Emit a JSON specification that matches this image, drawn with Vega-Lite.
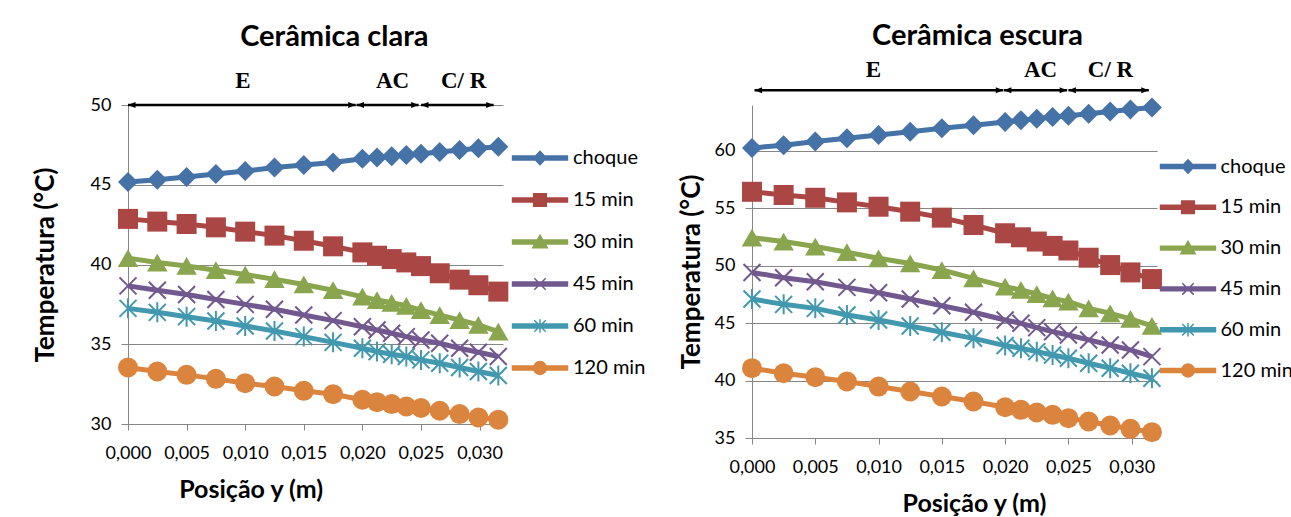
{
"$schema": "https://vega.github.io/schema/vega-lite/v6.json",
"background": "white",
"autosize": {"type": "pad"},
"padding": {"left": 32, "top": 21, "right": 0, "bottom": 0},
"datasets": {
"clara": [
{"s":"choque","x":0,"t":45.17},{"s":"choque","x":0.0025,"t":45.31},{"s":"choque","x":0.005,"t":45.49},{"s":"choque","x":0.0075,"t":45.67},{"s":"choque","x":0.01,"t":45.86},{"s":"choque","x":0.0125,"t":46.08},{"s":"choque","x":0.015,"t":46.24},{"s":"choque","x":0.0175,"t":46.39},{"s":"choque","x":0.02,"t":46.63},{"s":"choque","x":0.02125,"t":46.71},{"s":"choque","x":0.0225,"t":46.79},{"s":"choque","x":0.02375,"t":46.86},{"s":"choque","x":0.025,"t":46.94},{"s":"choque","x":0.0266,"t":47.05},{"s":"choque","x":0.0283,"t":47.18},{"s":"choque","x":0.0299,"t":47.29},{"s":"choque","x":0.0316,"t":47.38},
{"s":"15 min","x":0,"t":42.86},{"s":"15 min","x":0.0025,"t":42.69},{"s":"15 min","x":0.005,"t":42.54},{"s":"15 min","x":0.0075,"t":42.33},{"s":"15 min","x":0.01,"t":42.06},{"s":"15 min","x":0.0125,"t":41.81},{"s":"15 min","x":0.015,"t":41.49},{"s":"15 min","x":0.0175,"t":41.14},{"s":"15 min","x":0.02,"t":40.76},{"s":"15 min","x":0.02125,"t":40.55},{"s":"15 min","x":0.0225,"t":40.34},{"s":"15 min","x":0.02375,"t":40.13},{"s":"15 min","x":0.025,"t":39.9},{"s":"15 min","x":0.0266,"t":39.45},{"s":"15 min","x":0.0283,"t":39.05},{"s":"15 min","x":0.0299,"t":38.7},{"s":"15 min","x":0.0316,"t":38.3},
{"s":"30 min","x":0,"t":40.4},{"s":"30 min","x":0.0025,"t":40.12},{"s":"30 min","x":0.005,"t":39.91},{"s":"30 min","x":0.0075,"t":39.64},{"s":"30 min","x":0.01,"t":39.37},{"s":"30 min","x":0.0125,"t":39.08},{"s":"30 min","x":0.015,"t":38.75},{"s":"30 min","x":0.0175,"t":38.39},{"s":"30 min","x":0.02,"t":37.98},{"s":"30 min","x":0.02125,"t":37.77},{"s":"30 min","x":0.0225,"t":37.6},{"s":"30 min","x":0.02375,"t":37.41},{"s":"30 min","x":0.025,"t":37.14},{"s":"30 min","x":0.0266,"t":36.83},{"s":"30 min","x":0.0283,"t":36.52},{"s":"30 min","x":0.0299,"t":36.21},{"s":"30 min","x":0.0316,"t":35.79},
{"s":"45 min","x":0,"t":38.66},{"s":"45 min","x":0.0025,"t":38.39},{"s":"45 min","x":0.005,"t":38.12},{"s":"45 min","x":0.0075,"t":37.81},{"s":"45 min","x":0.01,"t":37.5},{"s":"45 min","x":0.0125,"t":37.19},{"s":"45 min","x":0.015,"t":36.83},{"s":"45 min","x":0.0175,"t":36.48},{"s":"45 min","x":0.02,"t":36.1},{"s":"45 min","x":0.02125,"t":35.89},{"s":"45 min","x":0.0225,"t":35.69},{"s":"45 min","x":0.02375,"t":35.48},{"s":"45 min","x":0.025,"t":35.27},{"s":"45 min","x":0.0266,"t":35.06},{"s":"45 min","x":0.0283,"t":34.75},{"s":"45 min","x":0.0299,"t":34.5},{"s":"45 min","x":0.0316,"t":34.23},
{"s":"60 min","x":0,"t":37.25},{"s":"60 min","x":0.0025,"t":37.0},{"s":"60 min","x":0.005,"t":36.73},{"s":"60 min","x":0.0075,"t":36.46},{"s":"60 min","x":0.01,"t":36.14},{"s":"60 min","x":0.0125,"t":35.83},{"s":"60 min","x":0.015,"t":35.48},{"s":"60 min","x":0.0175,"t":35.12},{"s":"60 min","x":0.02,"t":34.75},{"s":"60 min","x":0.02125,"t":34.54},{"s":"60 min","x":0.0225,"t":34.37},{"s":"60 min","x":0.02375,"t":34.23},{"s":"60 min","x":0.025,"t":34.02},{"s":"60 min","x":0.0266,"t":33.81},{"s":"60 min","x":0.0283,"t":33.54},{"s":"60 min","x":0.0299,"t":33.29},{"s":"60 min","x":0.0316,"t":33.04},
{"s":"120 min","x":0,"t":33.54},{"s":"120 min","x":0.0025,"t":33.29},{"s":"120 min","x":0.005,"t":33.08},{"s":"120 min","x":0.0075,"t":32.83},{"s":"120 min","x":0.01,"t":32.56},{"s":"120 min","x":0.0125,"t":32.35},{"s":"120 min","x":0.015,"t":32.08},{"s":"120 min","x":0.0175,"t":31.87},{"s":"120 min","x":0.02,"t":31.52},{"s":"120 min","x":0.02125,"t":31.37},{"s":"120 min","x":0.0225,"t":31.25},{"s":"120 min","x":0.02375,"t":31.1},{"s":"120 min","x":0.025,"t":31.0},{"s":"120 min","x":0.0266,"t":30.83},{"s":"120 min","x":0.0283,"t":30.62},{"s":"120 min","x":0.0299,"t":30.41},{"s":"120 min","x":0.0316,"t":30.27}
],
"escura": [
{"s":"choque","x":0,"t":60.26},{"s":"choque","x":0.0025,"t":60.5},{"s":"choque","x":0.005,"t":60.82},{"s":"choque","x":0.0075,"t":61.1},{"s":"choque","x":0.01,"t":61.38},{"s":"choque","x":0.0125,"t":61.68},{"s":"choque","x":0.015,"t":61.97},{"s":"choque","x":0.0175,"t":62.23},{"s":"choque","x":0.02,"t":62.52},{"s":"choque","x":0.02125,"t":62.68},{"s":"choque","x":0.0225,"t":62.8},{"s":"choque","x":0.02375,"t":62.95},{"s":"choque","x":0.025,"t":63.06},{"s":"choque","x":0.0266,"t":63.24},{"s":"choque","x":0.0283,"t":63.44},{"s":"choque","x":0.0299,"t":63.61},{"s":"choque","x":0.0316,"t":63.79},
{"s":"15 min","x":0,"t":56.44},{"s":"15 min","x":0.0025,"t":56.16},{"s":"15 min","x":0.005,"t":55.92},{"s":"15 min","x":0.0075,"t":55.52},{"s":"15 min","x":0.01,"t":55.14},{"s":"15 min","x":0.0125,"t":54.71},{"s":"15 min","x":0.015,"t":54.19},{"s":"15 min","x":0.0175,"t":53.55},{"s":"15 min","x":0.02,"t":52.83},{"s":"15 min","x":0.02125,"t":52.48},{"s":"15 min","x":0.0225,"t":52.11},{"s":"15 min","x":0.02375,"t":51.73},{"s":"15 min","x":0.025,"t":51.33},{"s":"15 min","x":0.0266,"t":50.7},{"s":"15 min","x":0.0283,"t":50.06},{"s":"15 min","x":0.0299,"t":49.42},{"s":"15 min","x":0.0316,"t":48.84},
{"s":"30 min","x":0,"t":52.45},{"s":"30 min","x":0.0025,"t":52.11},{"s":"30 min","x":0.005,"t":51.67},{"s":"30 min","x":0.0075,"t":51.18},{"s":"30 min","x":0.01,"t":50.65},{"s":"30 min","x":0.0125,"t":50.2},{"s":"30 min","x":0.015,"t":49.63},{"s":"30 min","x":0.0175,"t":48.9},{"s":"30 min","x":0.02,"t":48.18},{"s":"30 min","x":0.02125,"t":47.89},{"s":"30 min","x":0.0225,"t":47.54},{"s":"30 min","x":0.02375,"t":47.16},{"s":"30 min","x":0.025,"t":46.87},{"s":"30 min","x":0.0266,"t":46.29},{"s":"30 min","x":0.0283,"t":45.86},{"s":"30 min","x":0.0299,"t":45.37},{"s":"30 min","x":0.0316,"t":44.76},
{"s":"45 min","x":0,"t":49.42},{"s":"45 min","x":0.0025,"t":48.96},{"s":"45 min","x":0.005,"t":48.61},{"s":"45 min","x":0.0075,"t":48.12},{"s":"45 min","x":0.01,"t":47.65},{"s":"45 min","x":0.0125,"t":47.1},{"s":"45 min","x":0.015,"t":46.52},{"s":"45 min","x":0.0175,"t":45.95},{"s":"45 min","x":0.02,"t":45.28},{"s":"45 min","x":0.02125,"t":44.99},{"s":"45 min","x":0.0225,"t":44.61},{"s":"45 min","x":0.02375,"t":44.26},{"s":"45 min","x":0.025,"t":43.97},{"s":"45 min","x":0.0266,"t":43.54},{"s":"45 min","x":0.0283,"t":43.1},{"s":"45 min","x":0.0299,"t":42.67},{"s":"45 min","x":0.0316,"t":42.09},
{"s":"60 min","x":0,"t":47.1},{"s":"60 min","x":0.0025,"t":46.64},{"s":"60 min","x":0.005,"t":46.29},{"s":"60 min","x":0.0075,"t":45.71},{"s":"60 min","x":0.01,"t":45.28},{"s":"60 min","x":0.0125,"t":44.76},{"s":"60 min","x":0.015,"t":44.21},{"s":"60 min","x":0.0175,"t":43.68},{"s":"60 min","x":0.02,"t":43.05},{"s":"60 min","x":0.02125,"t":42.81},{"s":"60 min","x":0.0225,"t":42.52},{"s":"60 min","x":0.02375,"t":42.23},{"s":"60 min","x":0.025,"t":41.95},{"s":"60 min","x":0.0266,"t":41.51},{"s":"60 min","x":0.0283,"t":41.08},{"s":"60 min","x":0.0299,"t":40.64},{"s":"60 min","x":0.0316,"t":40.21},
{"s":"120 min","x":0,"t":41.08},{"s":"120 min","x":0.0025,"t":40.64},{"s":"120 min","x":0.005,"t":40.29},{"s":"120 min","x":0.0075,"t":39.92},{"s":"120 min","x":0.01,"t":39.48},{"s":"120 min","x":0.0125,"t":39.05},{"s":"120 min","x":0.015,"t":38.61},{"s":"120 min","x":0.0175,"t":38.18},{"s":"120 min","x":0.02,"t":37.68},{"s":"120 min","x":0.02125,"t":37.45},{"s":"120 min","x":0.0225,"t":37.22},{"s":"120 min","x":0.02375,"t":37.02},{"s":"120 min","x":0.025,"t":36.73},{"s":"120 min","x":0.0266,"t":36.44},{"s":"120 min","x":0.0283,"t":36.09},{"s":"120 min","x":0.0299,"t":35.8},{"s":"120 min","x":0.0316,"t":35.51}
],
"arrClara": [{"a":0,"b":0.01943,"y":50},{"a":0.0195,"b":0.0248,"y":50},{"a":0.025,"b":0.0312,"y":50}],
"arrEscura": [{"a":0.0002,"b":0.01985,"y":65.28},{"a":0.0199,"b":0.0249,"y":65.28},{"a":0.025,"b":0.03135,"y":65.28}],
"lblClara": [{"x":0.0098,"y":51.5,"l":"E"},{"x":0.02258,"y":51.5,"l":"AC"},{"x":0.02864,"y":51.5,"l":"C/ R"}],
"lblEscura": [{"x":0.0096,"y":67.05,"l":"E"},{"x":0.0228,"y":67.05,"l":"AC"},{"x":0.02833,"y":67.05,"l":"C/ R"}]
},
"spacing": 32,
"resolve": {"scale": {"color": "independent"}, "legend": {"color": "independent"}},
"hconcat": [
{
"width": 375, "height": 319,
"title": {"text": "Cerâmica clara", "offset": 18, "dx": -5},
"layer": [
{"data": {"name": "clara"}, "mark": {"type": "line", "strokeWidth": 5, "strokeJoin": "round"},
 "encoding": {
  "x": {"field": "x", "type": "quantitative", "title": "Posição y (m)", "scale": {"domain": [0, 0.032], "nice": false, "zero": false}, "axis": {"values": [0, 0.005, 0.01, 0.015, 0.02, 0.025, 0.03], "format": ".3f", "titleX": 122.7}},
  "y": {"field": "t", "type": "quantitative", "title": "Temperatura (°C)", "scale": {"domain": [30, 50], "nice": false, "zero": false}, "axis": {"values": [30, 35, 40, 45, 50], "titlePadding": 31.5}},
  "color": {"field": "s", "type": "nominal", "scale": {"domain": ["choque","15 min","30 min","45 min","60 min","120 min"], "range": ["#4572A7","#AA4643","#89A54E","#71588F","#4198AF","#DB843D"]},
   "legend": {"title": null, "orient": "none", "legendX": 396, "legendY": 37, "padding": 0, "symbolSize": 900, "labelOffset": 17, "rowPadding": 16, "labelFont": "Lato", "labelFontSize": 20, "labelColor": "#000",
    "encode": {"symbols": {"update": {
     "shape": {"signal": "datum.value==='choque'?'M-1.83,-0.13H1.83V0.13H-1.83ZM0,-0.45L0.42,0L0,0.45L-0.42,0Z':datum.value==='15 min'?'M-1.83,-0.13H1.83V0.13H-1.83ZM-0.42,-0.42H0.42V0.42H-0.42Z':datum.value==='30 min'?'M-1.83,-0.13H1.83V0.13H-1.83ZM0,-0.45L0.48,0.38H-0.48Z':datum.value==='45 min'?'M-1.83,-0.13H1.83V0.13H-1.83ZM-0.38,-0.38L0.38,0.38M-0.38,0.38L0.38,-0.38':datum.value==='60 min'?'M-1.83,-0.13H1.83V0.13H-1.83ZM-0.38,-0.38L0.38,0.38M-0.38,0.38L0.38,-0.38M0,-0.45L0,0.45':'M-1.83,-0.13H1.83V0.13H-1.83ZM-0.43,0A0.43,0.43 0 1,1 0.43,0A0.43,0.43 0 1,1 -0.43,0Z'"},
     "fill": {"signal": "datum.value==='choque'?'#4572A7':datum.value==='15 min'?'#AA4643':datum.value==='30 min'?'#89A54E':datum.value==='45 min'?'#71588F':datum.value==='60 min'?'#4198AF':'#DB843D'"},
     "strokeWidth": {"value": 1.5}, "opacity": {"value": 1}}}}}
  }
 }
},
{"data": {"name": "clara"}, "transform": [{"filter": {"field": "s", "equal": "choque"}}], "mark": {"type": "point", "shape": "diamond", "filled": true, "size": 400, "color": "#4572A7", "opacity": 1},
 "encoding": {"x": {"field": "x", "type": "quantitative", "title": "Posição y (m)"}, "y": {"field": "t", "type": "quantitative", "title": "Temperatura (°C)"}}},
{"data": {"name": "clara"}, "transform": [{"filter": {"field": "s", "equal": "15 min"}}], "mark": {"type": "point", "shape": "square", "filled": true, "size": 400, "color": "#AA4643", "opacity": 1},
 "encoding": {"x": {"field": "x", "type": "quantitative", "title": "Posição y (m)"}, "y": {"field": "t", "type": "quantitative", "title": "Temperatura (°C)"}}},
{"data": {"name": "clara"}, "transform": [{"filter": {"field": "s", "equal": "30 min"}}], "mark": {"type": "point", "shape": "triangle-up", "filled": true, "size": 420, "color": "#89A54E", "opacity": 1},
 "encoding": {"x": {"field": "x", "type": "quantitative", "title": "Posição y (m)"}, "y": {"field": "t", "type": "quantitative", "title": "Temperatura (°C)"}}},
{"data": {"name": "clara"}, "transform": [{"filter": {"field": "s", "equal": "45 min"}}], "mark": {"type": "point", "shape": "M-0.85,-0.85L0.85,0.85M-0.85,0.85L0.85,-0.85", "filled": false, "strokeWidth": 2, "size": 400, "color": "#71588F", "opacity": 1},
 "encoding": {"x": {"field": "x", "type": "quantitative", "title": "Posição y (m)"}, "y": {"field": "t", "type": "quantitative", "title": "Temperatura (°C)"}}},
{"data": {"name": "clara"}, "transform": [{"filter": {"field": "s", "equal": "60 min"}}], "mark": {"type": "point", "shape": "M-0.85,-0.85L0.85,0.85M-0.85,0.85L0.85,-0.85M0,-1L0,1", "filled": false, "strokeWidth": 2, "size": 400, "color": "#4198AF", "opacity": 1},
 "encoding": {"x": {"field": "x", "type": "quantitative", "title": "Posição y (m)"}, "y": {"field": "t", "type": "quantitative", "title": "Temperatura (°C)"}}},
{"data": {"name": "clara"}, "transform": [{"filter": {"field": "s", "equal": "120 min"}}], "mark": {"type": "point", "shape": "circle", "filled": true, "size": 400, "color": "#DB843D", "opacity": 1},
 "encoding": {"x": {"field": "x", "type": "quantitative", "title": "Posição y (m)"}, "y": {"field": "t", "type": "quantitative", "title": "Temperatura (°C)"}}},
{"data": {"name": "arrClara"}, "mark": {"type": "rule", "strokeWidth": 2.5, "color": "#000"},
 "encoding": {"x": {"field": "a", "type": "quantitative", "title": "Posição y (m)"}, "x2": {"field": "b"}, "y": {"field": "y", "type": "quantitative", "title": "Temperatura (°C)"}}},
{"data": {"name": "arrClara"}, "mark": {"type": "point", "shape": "M0,0L2,-0.8L2,0.8Z", "size": 56.25, "filled": true, "color": "#000", "opacity": 1},
 "encoding": {"x": {"field": "a", "type": "quantitative", "title": "Posição y (m)"}, "y": {"field": "y", "type": "quantitative", "title": "Temperatura (°C)"}}},
{"data": {"name": "arrClara"}, "mark": {"type": "point", "shape": "M0,0L-2,-0.8L-2,0.8Z", "size": 56.25, "filled": true, "color": "#000", "opacity": 1},
 "encoding": {"x": {"field": "b", "type": "quantitative", "title": "Posição y (m)"}, "y": {"field": "y", "type": "quantitative", "title": "Temperatura (°C)"}}},
{"data": {"name": "lblClara"}, "mark": {"type": "text", "font": "Liberation Serif", "fontWeight": "bold", "fontSize": 23, "baseline": "middle", "align": "center", "color": "#000"},
 "encoding": {"x": {"field": "x", "type": "quantitative", "title": "Posição y (m)"}, "y": {"field": "y", "type": "quantitative", "title": "Temperatura (°C)"}, "text": {"field": "l"}}}
]
},
{
"width": 405, "height": 333,
"title": {"text": "Cerâmica escura", "offset": 8, "dx": -8},
"layer": [
{"data": {"name": "escura"}, "mark": {"type": "line", "strokeWidth": 5, "strokeJoin": "round"},
 "encoding": {
  "x": {"field": "x", "type": "quantitative", "title": "Posição y (m)", "scale": {"domain": [0, 0.032], "nice": false, "zero": false}, "axis": {"values": [0, 0.005, 0.01, 0.015, 0.02, 0.025, 0.03], "format": ".3f", "titleX": 222}},
  "y": {"field": "t", "type": "quantitative", "title": "Temperatura (°C)", "scale": {"domain": [35, 64], "nice": false, "zero": false}, "axis": {"values": [35, 40, 45, 50, 55, 60], "titlePadding": 10}},
  "color": {"field": "s", "type": "nominal", "scale": {"domain": ["choque","15 min","30 min","45 min","60 min","120 min"], "range": ["#4572A7","#AA4643","#89A54E","#71588F","#4198AF","#DB843D"]},
   "legend": {"title": null, "orient": "none", "legendX": 420, "legendY": 45.5, "padding": 0, "symbolSize": 900, "labelOffset": 16.5, "rowPadding": 14.8, "labelFont": "Lato", "labelFontSize": 20, "labelColor": "#000",
    "encode": {"symbols": {"update": {
     "shape": {"signal": "datum.value==='choque'?'M-1.83,-0.13H1.83V0.13H-1.83ZM0,-0.45L0.42,0L0,0.45L-0.42,0Z':datum.value==='15 min'?'M-1.83,-0.13H1.83V0.13H-1.83ZM-0.42,-0.42H0.42V0.42H-0.42Z':datum.value==='30 min'?'M-1.83,-0.13H1.83V0.13H-1.83ZM0,-0.45L0.48,0.38H-0.48Z':datum.value==='45 min'?'M-1.83,-0.13H1.83V0.13H-1.83ZM-0.38,-0.38L0.38,0.38M-0.38,0.38L0.38,-0.38':datum.value==='60 min'?'M-1.83,-0.13H1.83V0.13H-1.83ZM-0.38,-0.38L0.38,0.38M-0.38,0.38L0.38,-0.38M0,-0.45L0,0.45':'M-1.83,-0.13H1.83V0.13H-1.83ZM-0.43,0A0.43,0.43 0 1,1 0.43,0A0.43,0.43 0 1,1 -0.43,0Z'"},
     "fill": {"signal": "datum.value==='choque'?'#4572A7':datum.value==='15 min'?'#AA4643':datum.value==='30 min'?'#89A54E':datum.value==='45 min'?'#71588F':datum.value==='60 min'?'#4198AF':'#DB843D'"},
     "strokeWidth": {"value": 1.5}, "opacity": {"value": 1}}}}}
  }
 }
},
{"data": {"name": "escura"}, "transform": [{"filter": {"field": "s", "equal": "choque"}}], "mark": {"type": "point", "shape": "diamond", "filled": true, "size": 400, "color": "#4572A7", "opacity": 1},
 "encoding": {"x": {"field": "x", "type": "quantitative", "title": "Posição y (m)"}, "y": {"field": "t", "type": "quantitative", "title": "Temperatura (°C)"}}},
{"data": {"name": "escura"}, "transform": [{"filter": {"field": "s", "equal": "15 min"}}], "mark": {"type": "point", "shape": "square", "filled": true, "size": 400, "color": "#AA4643", "opacity": 1},
 "encoding": {"x": {"field": "x", "type": "quantitative", "title": "Posição y (m)"}, "y": {"field": "t", "type": "quantitative", "title": "Temperatura (°C)"}}},
{"data": {"name": "escura"}, "transform": [{"filter": {"field": "s", "equal": "30 min"}}], "mark": {"type": "point", "shape": "triangle-up", "filled": true, "size": 420, "color": "#89A54E", "opacity": 1},
 "encoding": {"x": {"field": "x", "type": "quantitative", "title": "Posição y (m)"}, "y": {"field": "t", "type": "quantitative", "title": "Temperatura (°C)"}}},
{"data": {"name": "escura"}, "transform": [{"filter": {"field": "s", "equal": "45 min"}}], "mark": {"type": "point", "shape": "M-0.85,-0.85L0.85,0.85M-0.85,0.85L0.85,-0.85", "filled": false, "strokeWidth": 2, "size": 400, "color": "#71588F", "opacity": 1},
 "encoding": {"x": {"field": "x", "type": "quantitative", "title": "Posição y (m)"}, "y": {"field": "t", "type": "quantitative", "title": "Temperatura (°C)"}}},
{"data": {"name": "escura"}, "transform": [{"filter": {"field": "s", "equal": "60 min"}}], "mark": {"type": "point", "shape": "M-0.85,-0.85L0.85,0.85M-0.85,0.85L0.85,-0.85M0,-1L0,1", "filled": false, "strokeWidth": 2, "size": 400, "color": "#4198AF", "opacity": 1},
 "encoding": {"x": {"field": "x", "type": "quantitative", "title": "Posição y (m)"}, "y": {"field": "t", "type": "quantitative", "title": "Temperatura (°C)"}}},
{"data": {"name": "escura"}, "transform": [{"filter": {"field": "s", "equal": "120 min"}}], "mark": {"type": "point", "shape": "circle", "filled": true, "size": 400, "color": "#DB843D", "opacity": 1},
 "encoding": {"x": {"field": "x", "type": "quantitative", "title": "Posição y (m)"}, "y": {"field": "t", "type": "quantitative", "title": "Temperatura (°C)"}}},
{"data": {"name": "arrEscura"}, "mark": {"type": "rule", "strokeWidth": 2.5, "color": "#000"},
 "encoding": {"x": {"field": "a", "type": "quantitative", "title": "Posição y (m)"}, "x2": {"field": "b"}, "y": {"field": "y", "type": "quantitative", "title": "Temperatura (°C)"}}},
{"data": {"name": "arrEscura"}, "mark": {"type": "point", "shape": "M0,0L2,-0.8L2,0.8Z", "size": 56.25, "filled": true, "color": "#000", "opacity": 1},
 "encoding": {"x": {"field": "a", "type": "quantitative", "title": "Posição y (m)"}, "y": {"field": "y", "type": "quantitative", "title": "Temperatura (°C)"}}},
{"data": {"name": "arrEscura"}, "mark": {"type": "point", "shape": "M0,0L-2,-0.8L-2,0.8Z", "size": 56.25, "filled": true, "color": "#000", "opacity": 1},
 "encoding": {"x": {"field": "b", "type": "quantitative", "title": "Posição y (m)"}, "y": {"field": "y", "type": "quantitative", "title": "Temperatura (°C)"}}},
{"data": {"name": "lblEscura"}, "mark": {"type": "text", "font": "Liberation Serif", "fontWeight": "bold", "fontSize": 23, "baseline": "middle", "align": "center", "color": "#000"},
 "encoding": {"x": {"field": "x", "type": "quantitative", "title": "Posição y (m)"}, "y": {"field": "y", "type": "quantitative", "title": "Temperatura (°C)"}, "text": {"field": "l"}}}
]
}
],
"config": {
 "locale": {"number": {"decimal": ",", "thousands": ".", "grouping": [3], "currency": ["", ""]}},
 "view": {"stroke": null},
 "title": {"font": "Lato", "fontSize": 29, "fontWeight": "bold", "color": "#000", "anchor": "middle", "frame": "bounds"},
 "axis": {"labelFont": "Lato", "labelFontSize": 18, "labelColor": "#000", "titleFont": "Lato", "titleFontWeight": "bold", "titleColor": "#000", "domainColor": "#868686", "tickColor": "#868686", "gridColor": "#868686", "domainWidth": 1, "tickWidth": 1, "gridWidth": 1, "labelFlush": false, "labelOverlap": false},
 "axisY": {"grid": true, "tickSize": 7, "labelPadding": 10, "titleFontSize": 26},
 "axisX": {"grid": false, "tickSize": 6, "labelPadding": 14, "titlePadding": 15, "titleFontSize": 25}
}
}
